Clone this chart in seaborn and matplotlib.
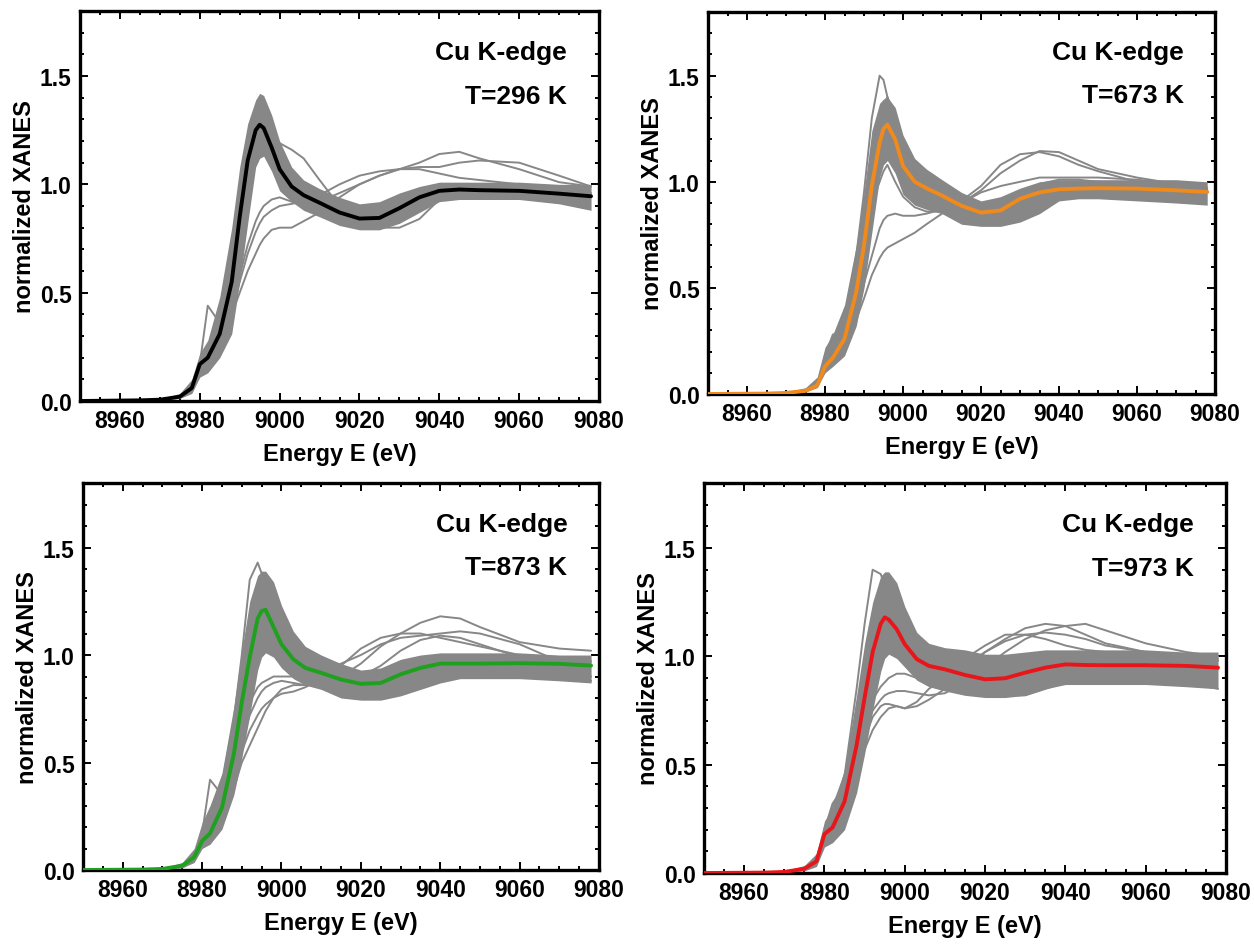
import matplotlib
matplotlib.use("Agg")
import matplotlib.pyplot as plt
from matplotlib.ticker import MultipleLocator
import seaborn as sns

# ---------------- data ----------------
ENERGY = [8950, 8965, 8970, 8975, 8978, 8980, 8982, 8985, 8988, 8990, 8992, 8994, 8995,
          8996, 8998, 9000, 9003, 9006, 9010, 9015, 9020, 9025, 9030, 9035, 9040, 9045,
          9050, 9060, 9070, 9078]
OUT_ENERGY = [8980, 8982, 8985, 8988, 8990, 8992, 8994, 8995, 8996, 8998, 9000, 9003, 9006,
              9010, 9015, 9020, 9025, 9030, 9035, 9040, 9045, 9050, 9060, 9070, 9078]

TEMPS = ["296", "673", "873", "973"]
MEAN_COLORS = ["#000000", "#F08A1C", "#1FA01F", "#E8161B"]

# mean spectra
MEAN_296 = [0.0, 0.003, 0.006, 0.02, 0.06, 0.17, 0.2, 0.31, 0.55, 0.85, 1.11, 1.25, 1.275,
            1.26, 1.17, 1.07, 0.99, 0.95, 0.915, 0.87, 0.842, 0.845, 0.89, 0.94, 0.97, 0.976,
            0.973, 0.97, 0.957, 0.945]
MEAN_673 = [0.0, 0.002, 0.005, 0.015, 0.04, 0.13, 0.17, 0.26, 0.48, 0.7, 0.98, 1.185, 1.25,
            1.27, 1.2, 1.075, 1.0, 0.97, 0.935, 0.887, 0.855, 0.865, 0.92, 0.95, 0.965, 0.968,
            0.97, 0.968, 0.96, 0.952]
MEAN_873 = [0.0, 0.002, 0.005, 0.02, 0.06, 0.135, 0.17, 0.29, 0.54, 0.78, 0.99, 1.17, 1.205,
            1.21, 1.13, 1.05, 0.98, 0.94, 0.917, 0.886, 0.866, 0.87, 0.91, 0.94, 0.96, 0.96,
            0.96, 0.962, 0.959, 0.951]
MEAN_973 = [0.0, 0.002, 0.005, 0.02, 0.054, 0.18, 0.21, 0.33, 0.59, 0.81, 1.02, 1.15, 1.18,
            1.17, 1.125, 1.056, 0.987, 0.956, 0.94, 0.914, 0.894, 0.899, 0.925, 0.948, 0.963,
            0.96, 0.959, 0.959, 0.956, 0.948]

# lower / upper envelope of the dense bundle of individual spectra
LOW_296 = [0.0, 0.002, 0.004, 0.012, 0.035, 0.11, 0.13, 0.2, 0.31, 0.55, 0.82, 1.08, 1.12,
           1.13, 1.06, 0.97, 0.92, 0.88, 0.85, 0.81, 0.79, 0.79, 0.82, 0.87, 0.92, 0.93,
           0.93, 0.93, 0.91, 0.88]
HIGH_296 = [0.0, 0.004, 0.01, 0.035, 0.1, 0.22, 0.28, 0.48, 0.8, 1.08, 1.28, 1.39, 1.42,
            1.41, 1.32, 1.2, 1.08, 1.02, 0.98, 0.94, 0.91, 0.92, 0.96, 0.99, 1.01, 1.01,
            1.01, 1.01, 1.0, 1.0]
LOW_673 = [0.0, 0.001, 0.003, 0.01, 0.03, 0.1, 0.13, 0.18, 0.32, 0.5, 0.76, 1.02, 1.08,
           1.1, 1.04, 0.94, 0.89, 0.87, 0.85, 0.8, 0.79, 0.79, 0.81, 0.85, 0.91, 0.92,
           0.92, 0.91, 0.9, 0.89]
HIGH_673 = [0.0, 0.003, 0.009, 0.03, 0.08, 0.22, 0.28, 0.42, 0.7, 0.95, 1.24, 1.37, 1.39,
            1.4, 1.35, 1.22, 1.11, 1.06, 1.01, 0.95, 0.91, 0.93, 0.97, 1.0, 1.01, 1.01,
            1.01, 1.01, 1.01, 1.0]
LOW_873 = [0.0, 0.001, 0.003, 0.01, 0.035, 0.1, 0.12, 0.19, 0.35, 0.52, 0.72, 0.93, 0.99,
           1.01, 0.99, 0.94, 0.89, 0.86, 0.84, 0.8, 0.79, 0.79, 0.81, 0.84, 0.87, 0.89,
           0.89, 0.89, 0.88, 0.87]
HIGH_873 = [0.0, 0.003, 0.009, 0.035, 0.1, 0.22, 0.3, 0.45, 0.76, 1.02, 1.25, 1.37, 1.39,
            1.39, 1.34, 1.23, 1.11, 1.04, 1.0, 0.96, 0.93, 0.94, 0.98, 1.0, 1.01, 1.01,
            1.01, 1.01, 1.0, 1.0]
LOW_973 = [0.0, 0.001, 0.003, 0.01, 0.03, 0.12, 0.14, 0.2, 0.37, 0.55, 0.75, 0.93, 0.99,
           1.01, 0.99, 0.95, 0.89, 0.86, 0.84, 0.82, 0.81, 0.81, 0.82, 0.85, 0.87, 0.87,
           0.87, 0.87, 0.86, 0.85]
HIGH_973 = [0.0, 0.003, 0.009, 0.035, 0.09, 0.24, 0.3, 0.48, 0.82, 1.06, 1.25, 1.37, 1.39,
            1.39, 1.34, 1.23, 1.11, 1.06, 1.04, 1.03, 1.01, 1.01, 1.02, 1.03, 1.03, 1.03,
            1.03, 1.03, 1.02, 1.02]

# individual spectra that stray outside the bundle (on OUT_ENERGY)
OUTLIERS_296 = [
    [0.12, 0.16, 0.25, 0.4, 0.5, 0.6, 0.68, 0.72, 0.75, 0.79, 0.8, 0.8, 0.83, 0.87, 0.94,
     1.0, 1.04, 1.07, 1.1, 1.14, 1.15, 1.12, 1.07, 1.01, 0.99],
    [0.14, 0.18, 0.3, 0.45, 0.58, 0.72, 0.83, 0.87, 0.9, 0.93, 0.94, 0.92, 0.91, 0.92, 0.96,
     1.0, 1.04, 1.07, 1.08, 1.08, 1.1, 1.11, 1.1, 1.04, 0.99],
    [0.17, 0.44, 0.36, 0.6, 0.85, 1.05, 1.15, 1.17, 1.18, 1.19, 1.19, 1.16, 1.12, 1.02, 0.9,
     0.83, 0.8, 0.8, 0.84, 0.93, 0.98, 0.98, 0.97, 0.96, 0.95],
    [0.14, 0.18, 0.28, 0.42, 0.55, 0.68, 0.78, 0.82, 0.85, 0.88, 0.9, 0.91, 0.92, 0.95, 1.0,
     1.04, 1.06, 1.07, 1.07, 1.05, 1.03, 1.02, 1.0, 0.98, 0.96],
]
OUTLIERS_673 = [
    [0.18, 0.24, 0.35, 0.65, 0.95, 1.3, 1.5, 1.48, 1.4, 1.25, 1.12, 1.04, 0.99, 0.95, 0.9,
     0.86, 0.86, 0.9, 0.95, 0.97, 0.98, 0.98, 0.98, 0.97, 0.96],
    [0.12, 0.15, 0.22, 0.4, 0.52, 0.65, 0.78, 0.82, 0.84, 0.85, 0.84, 0.84, 0.85, 0.87, 0.91,
     0.98, 1.08, 1.13, 1.14, 1.12, 1.08, 1.05, 1.0, 0.98, 0.96],
    [0.15, 0.2, 0.3, 0.5, 0.7, 0.9, 1.0, 1.05, 1.08, 1.0, 0.93, 0.88, 0.86, 0.86, 0.9,
     0.96, 1.04, 1.1, 1.145, 1.14, 1.1, 1.06, 1.02, 0.99, 0.97],
    [0.11, 0.14, 0.2, 0.35, 0.45, 0.56, 0.64, 0.67, 0.69, 0.71, 0.73, 0.76, 0.8, 0.85, 0.9,
     0.95, 0.98, 1.0, 1.02, 1.02, 1.02, 1.02, 1.01, 0.99, 0.97],
    [0.18, 0.28, 0.3, 0.55, 0.8, 1.1, 1.3, 1.36, 1.4, 1.3, 1.15, 1.05, 1.0, 0.96, 0.91,
     0.87, 0.88, 0.93, 0.99, 1.01, 1.01, 1.0, 0.99, 0.97, 0.96],
]
OUTLIERS_873 = [
    [0.16, 0.22, 0.4, 0.7, 1.0, 1.35, 1.43, 1.38, 1.3, 1.15, 1.05, 0.98, 0.95, 0.92, 0.89,
     0.87, 0.88, 0.91, 0.95, 0.97, 0.97, 0.97, 0.97, 0.96, 0.95],
    [0.12, 0.15, 0.22, 0.38, 0.5, 0.58, 0.66, 0.7, 0.74, 0.8, 0.84, 0.86, 0.86, 0.87, 0.9,
     0.96, 1.04, 1.1, 1.15, 1.18, 1.17, 1.13, 1.06, 1.03, 1.02],
    [0.13, 0.17, 0.26, 0.42, 0.55, 0.65, 0.72, 0.75, 0.77, 0.8, 0.82, 0.83, 0.85, 0.89, 0.95,
     1.03, 1.08, 1.1, 1.1, 1.08, 1.06, 1.04, 1.0, 0.98, 0.97],
    [0.17, 0.42, 0.35, 0.6, 0.85, 1.05, 1.2, 1.25, 1.27, 1.25, 1.18, 1.08, 1.02, 0.96, 0.9,
     0.83, 0.8, 0.82, 0.87, 0.92, 0.95, 0.96, 0.97, 0.96, 0.95],
    [0.14, 0.18, 0.3, 0.5, 0.65, 0.78, 0.85, 0.87, 0.88, 0.9, 0.9, 0.9, 0.9, 0.92, 0.96,
     1.0, 1.05, 1.08, 1.09, 1.1, 1.11, 1.1, 1.05, 0.97, 0.9],
    [0.13, 0.16, 0.25, 0.45, 0.6, 0.72, 0.8, 0.83, 0.85, 0.87, 0.88, 0.87, 0.86, 0.86, 0.87,
     0.9, 0.95, 1.02, 1.07, 1.09, 1.08, 1.05, 0.99, 0.93, 0.88],
]
OUTLIERS_973 = [
    [0.2, 0.3, 0.45, 0.85, 1.15, 1.4, 1.38, 1.33, 1.25, 1.1, 1.0, 0.95, 0.93, 0.92, 0.9,
     0.89, 0.9, 0.93, 0.95, 0.96, 0.96, 0.96, 0.96, 0.95, 0.94],
    [0.13, 0.16, 0.25, 0.45, 0.57, 0.66, 0.72, 0.74, 0.76, 0.77, 0.76, 0.77, 0.8, 0.85, 0.94,
     1.02, 1.08, 1.13, 1.15, 1.14, 1.1, 1.06, 1.02, 1.0, 0.98],
    [0.15, 0.18, 0.3, 0.5, 0.65, 0.75, 0.8, 0.82, 0.83, 0.84, 0.84, 0.83, 0.82, 0.83, 0.88,
     0.95, 1.02, 1.08, 1.12, 1.14, 1.15, 1.12, 1.06, 1.02, 1.0],
    [0.2, 0.32, 0.4, 0.7, 0.95, 1.2, 1.32, 1.35, 1.36, 1.3, 1.2, 1.1, 1.03, 0.95, 0.88,
     0.84, 0.82, 0.82, 0.85, 0.88, 0.9, 0.91, 0.9, 0.88, 0.85],
    [0.16, 0.2, 0.3, 0.5, 0.7, 0.8, 0.86, 0.88, 0.9, 0.92, 0.92, 0.9, 0.9, 0.93, 0.99,
     1.05, 1.1, 1.1, 1.08, 1.05, 1.03, 1.02, 1.01, 1.0, 0.99],
    [0.14, 0.17, 0.27, 0.48, 0.62, 0.72, 0.77, 0.78, 0.78, 0.77, 0.76, 0.79, 0.85, 0.9, 0.96,
     1.02, 1.07, 1.1, 1.11, 1.1, 1.08, 1.05, 1.02, 1.0, 0.98],
]

MEANS = [MEAN_296, MEAN_673, MEAN_873, MEAN_973]
LOWS = [LOW_296, LOW_673, LOW_873, LOW_973]
HIGHS = [HIGH_296, HIGH_673, HIGH_873, HIGH_973]
OUTLIERS = [OUTLIERS_296, OUTLIERS_673, OUTLIERS_873, OUTLIERS_973]

X_TICKS = [8960, 8980, 9000, 9020, 9040, 9060, 9080]
Y_TICKS = [0.0, 0.5, 1.0, 1.5]

# ---------------- styling ----------------
sns.set_style("ticks")
plt.rcParams["font.family"] = ["Liberation Sans", "DejaVu Sans"]
plt.rcParams["font.weight"] = "bold"
for key in ["text.color", "axes.labelcolor", "xtick.color", "ytick.color"]:
    plt.rcParams[key] = "black"

GRAY = "#878787"

fig = plt.figure(figsize=(12.54, 9.45), dpi=100)
positions = [
    [0.0638, 0.5746, 0.4139, 0.4127],
    [0.5646, 0.5820, 0.4043, 0.4042],
    [0.0662, 0.0783, 0.4115, 0.4095],
    [0.5614, 0.0751, 0.4163, 0.4127],
]

for i, pos in enumerate(positions):
    ax = fig.add_axes(pos)
    ax.fill_between(ENERGY, LOWS[i], HIGHS[i], color=GRAY, lw=0, zorder=1)
    for curve in OUTLIERS[i]:
        sns.lineplot(x=OUT_ENERGY, y=curve, ax=ax, color=GRAY, lw=1.4,
                     estimator=None, sort=False, zorder=2)
    sns.lineplot(x=ENERGY, y=MEANS[i], ax=ax, color=MEAN_COLORS[i], lw=2.8,
                 estimator=None, sort=False, zorder=3)

    ax.set_xlim(8950, 9080)
    ax.set_ylim(0, 1.8)
    ax.set_xticks(X_TICKS)
    ax.set_yticks(Y_TICKS)
    ax.set_yticklabels([f"{v:.1f}" for v in Y_TICKS])
    ax.xaxis.set_minor_locator(MultipleLocator(5))
    ax.yaxis.set_minor_locator(MultipleLocator(0.1))
    ax.tick_params(which="both", direction="in", top=True, right=True,
                   labelsize=16.5, width=1.4, color="black", labelcolor="black")
    ax.tick_params(which="major", length=6, pad=6)
    ax.tick_params(which="minor", length=3)
    for lab in ax.get_xticklabels() + ax.get_yticklabels():
        lab.set_fontweight("bold")
    for sp in ax.spines.values():
        sp.set_linewidth(2.4)
        sp.set_color("black")

    ax.set_xlabel("Energy E (eV)", fontsize=17, fontweight="bold", labelpad=7)
    ax.set_ylabel("normalized XANES", fontsize=17, fontweight="bold", labelpad=3)

    ax.text(9072, 1.61, "Cu K-edge", ha="right", va="center",
            fontsize=19, fontweight="bold")
    ax.text(9072, 1.41, f"T={TEMPS[i]} K", ha="right", va="center",
            fontsize=19, fontweight="bold")

fig.savefig("out.png", dpi=100)
